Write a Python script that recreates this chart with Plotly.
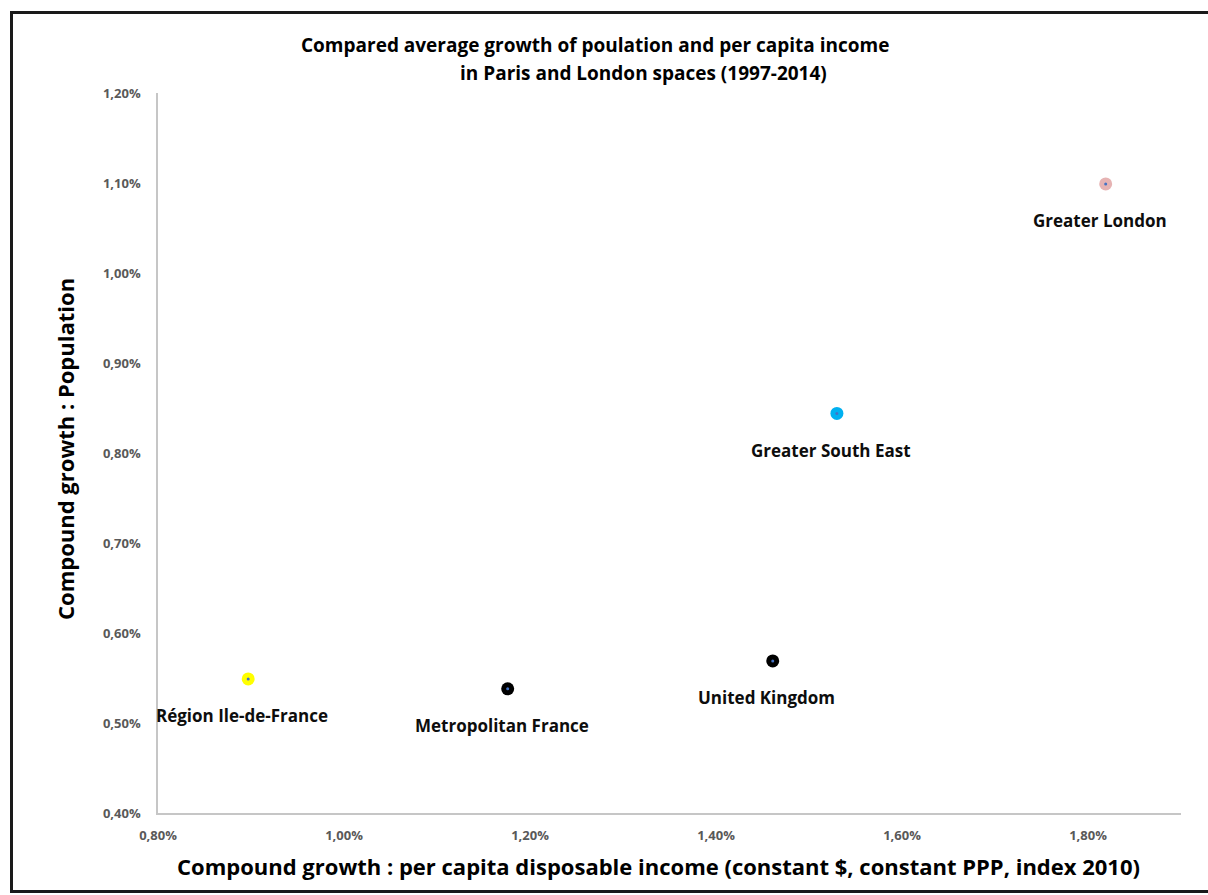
import plotly.graph_objects as go

# Data (compound annual growth, as fractions)
regions = ["Greater London", "Greater South East", "United Kingdom",
           "Metropolitan France", "Région Ile-de-France"]
income_growth = [0.01819, 0.01530, 0.01461, 0.01176, 0.00897]
population_growth = [0.01099, 0.00844, 0.00569, 0.00538, 0.00549]
marker_colors = ["#E6B3B3", "#00B0F0", "#000000", "#000000", "#FFFF00"]

x_ticks = [0.008, 0.010, 0.012, 0.014, 0.016, 0.018]
y_ticks = [0.004, 0.005, 0.006, 0.007, 0.008, 0.009, 0.010, 0.011, 0.012]

FONT = "'Open Sans', Lato, sans-serif"

W, H = 1208, 895
L, R, T, B = 158, 27, 93, 82
pw, ph = W - L - R, H - T - B

def px_x(p):
    return (p - L) / pw

def px_y(p):
    return (H - B - p) / ph

fig = go.Figure()
fig.add_trace(go.Scatter(
    x=income_growth, y=population_growth, mode="markers",
    marker=dict(size=13, color=marker_colors, line=dict(width=0)),
    hovertext=regions, showlegend=False,
))
fig.add_trace(go.Scatter(
    x=income_growth, y=population_growth, mode="markers",
    marker=dict(size=3, color="#4472C4", line=dict(width=0)),
    hoverinfo="skip", showlegend=False,
))

annotations = []
for name, xv, yv in zip(regions, income_growth, population_growth):
    annotations.append(dict(
        x=xv, y=yv, xref="x", yref="y", text=name, showarrow=False,
        xshift=-6, yshift=-37, xanchor="center", yanchor="middle",
        font=dict(family=FONT, size=17, color="#0D0D0D", weight="bold"),
    ))

# Title (two lines)
annotations.append(dict(
    x=px_x(595), y=px_y(45), xref="paper", yref="paper", showarrow=False,
    text="Compared average growth of poulation and per capita income",
    xanchor="center", yanchor="middle",
    font=dict(family=FONT, size=19, color="#000000", weight="bold"),
))
annotations.append(dict(
    x=px_x(643), y=px_y(73), xref="paper", yref="paper", showarrow=False,
    text="in Paris and London spaces (1997-2014)",
    xanchor="center", yanchor="middle",
    font=dict(family=FONT, size=19, color="#000000", weight="bold"),
))
# Axis titles
annotations.append(dict(
    x=px_x(658), y=px_y(866), xref="paper", yref="paper", showarrow=False,
    text="Compound growth : per capita disposable income (constant $, constant PPP, index 2010)",
    xanchor="center", yanchor="middle",
    font=dict(family=FONT, size=22, color="#000000", weight="bold"),
))
annotations.append(dict(
    x=px_x(65), y=px_y(449), xref="paper", yref="paper", showarrow=False,
    text="Compound growth : Population", textangle=-90,
    xanchor="center", yanchor="middle",
    font=dict(family=FONT, size=22, color="#000000", weight="bold"),
))

fig.update_layout(
    width=W, height=H,
    margin=dict(l=L, r=R, t=T, b=B, pad=0),
    paper_bgcolor="white", plot_bgcolor="white",
    separators=",.",
    font=dict(family=FONT),
    annotations=annotations,
    shapes=[dict(
        type="rect", xref="paper", yref="paper",
        x0=px_x(11.5), x1=px_x(1240), y0=px_y(891.5), y1=px_y(12.5),
        line=dict(color="#1A1A1A", width=3), fillcolor="rgba(0,0,0,0)",
        layer="above",
    )],
    xaxis=dict(
        range=[0.008, 0.019], tickvals=x_ticks, tickformat=".2%",
        showgrid=False, zeroline=False, showline=True,
        linecolor="#C6C6C6", linewidth=1.5, ticks="",
        ticklabelstandoff=10,
        tickfont=dict(family=FONT, size=13, color="#595959", weight="bold"),
    ),
    yaxis=dict(
        range=[0.004, 0.012], tickvals=y_ticks, tickformat=".2%",
        showgrid=False, zeroline=False, showline=True,
        linecolor="#C6C6C6", linewidth=1.5, ticks="",
        ticklabelstandoff=13,
        tickfont=dict(family=FONT, size=13, color="#595959", weight="bold"),
    ),
)

fig.write_html(
    "out.html",
    config={"displayModeBar": False},
    post_script="document.body.style.margin='0';document.body.style.overflow='hidden';",
)
